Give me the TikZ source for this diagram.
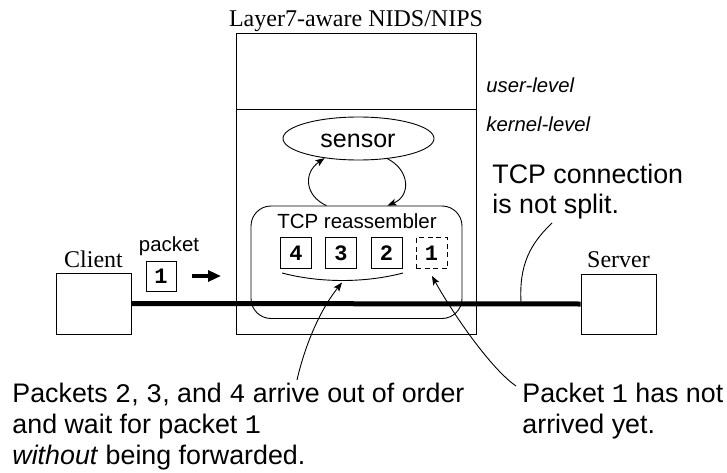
\documentclass[tikz,border=0pt]{standalone}
\usepackage{fontspec}
\setmainfont{Liberation Serif}
\setsansfont{Liberation Sans}
\setmonofont{Liberation Mono}
\usetikzlibrary{arrows.meta,shapes.geometric}
\newcommand{\mycode}[1]{\texttt{#1}}
\begin{document}
\begin{tikzpicture}[x=1pt,y=-1pt,line width=0.9pt,
  plainbox/.style={draw,rectangle,inner sep=0pt},
  pkt/.style={draw,rectangle,minimum width=31pt,minimum height=31pt,inner sep=0pt,
    font=\fontsize{22}{22}\selectfont\ttfamily\bfseries},
  serifl/.style={anchor=base,inner sep=0pt,font=\fontsize{24}{24}\selectfont\rmfamily},
  note/.style={anchor=base west,inner sep=0pt,font=\fontsize{26.8}{31}\selectfont\sffamily},
  lvl/.style={anchor=base west,inner sep=0pt,font=\fontsize{20.3}{22}\selectfont\sffamily\itshape},
  arr/.style={-{Stealth[length=9pt,width=7pt,inset=2pt]}},
]
\useasboundingbox (0,0) rectangle (727,473);

% heading
\node[serifl] (head) at (356,27) {Layer7-aware NIDS/NIPS};

% NIDS box
\node[plainbox,minimum width=239.5pt,minimum height=301pt] (nips) at (356.25,183.5) {};
\draw (nips.west |- 0,109) -- (nips.east |- 0,109);
\node[lvl] (user) at (486,93) {user-level};
\node[lvl] (kern) at (486,132) {kernel-level};

% sensor
\node[ellipse,draw,minimum width=151pt,minimum height=43pt,inner sep=0pt] (sensor) at (358.5,138.5) {};
\node[anchor=base,inner sep=0pt,font=\fontsize{25}{25}\selectfont\sffamily] (sensortxt) at (358,147.5) {sensor};

% TCP reassembler
\node[draw,rectangle,rounded corners=20pt,minimum width=211pt,minimum height=112.5pt,inner sep=0pt] (tcp) at (356.5,262.25) {};
\node[anchor=base,inner sep=0pt,font=\fontsize{20.5}{22}\selectfont\sffamily] (tcptxt) at (357,228.5) {TCP reassembler};

\node[pkt] (p4) at (296,253) {4};
\node[pkt] (p3) at (341,253) {3};
\node[pkt] (p2) at (386.5,253) {2};
\node[pkt,dashed,dash pattern=on 5pt off 3.5pt] (p1) at (431.5,253) {1};

% sensor <-> reassembler arcs
\draw[arr] ([xshift=-30pt]tcp.north) .. controls (305,196) and (303,173) .. (sensor.210);
\draw[arr] (sensor.-35) .. controls (410,170) and (411,196) .. ([xshift=31pt]tcp.north);

% brace under 4 3 2
\coordinate (brL) at (282,273);
\coordinate (brR) at (403,273);
\coordinate (brM) at (342,282.5);
\draw (brL) .. controls (320,283) and (365,283) .. (brR);

% client / server
\node[plainbox,minimum width=75pt,minimum height=61pt] (client) at (93.5,303.5) {};
\node[plainbox,minimum width=75pt,minimum height=60pt] (server) at (618.5,304) {};
\node[serifl] (clienttxt) at (93.5,267) {Client};
\node[serifl] (servertxt) at (618.5,267) {Server};
\draw[line width=5pt] (client.east) -- (server.west);

% packet in flight
\node[anchor=base,inner sep=0pt,font=\fontsize{20.4}{22}\selectfont\sffamily] (pktlbl) at (169,251.5) {packet};
\node[pkt,minimum width=30pt,minimum height=30pt] (pk) at (161,276) {1};
\coordinate (pa1) at (192,276);
\coordinate (pa2) at (221,276);
\draw[line width=3.5pt,-{Triangle[length=13pt,width=11pt]}] (pa1) -- (pa2);

% TCP connection note
\node[note] (tc1) at (492,183) {TCP connection};
\node[note] (tc2) at (492,213) {is not split.};
\coordinate (tcl) at (521,302);
\coordinate (tct) at (552,223);
\draw (tcl) .. controls (519,265) and (530,244) .. (tct);

% bottom notes
\node[note] (l1) at (12,402) {Packets \mycode{2}, \mycode{3}, and \mycode{4} arrive out of order};
\node[note] (l2) at (12,433) {and wait for packet \mycode{1}};
\node[note] (l3) at (12,464) {\textit{without} being forwarded.};
\node[note] (r1) at (522,402) {Packet \mycode{1} has not};
\node[note] (r2) at (522,433) {arrived yet.};

\coordinate (la) at (297,380);
\draw[arr] (la) .. controls (305,345) and (320,310) .. (brM);
\coordinate (ra) at (516,386);
\coordinate (p1t) at (432,276);
\draw[arr] (ra) .. controls (490,368) and (452,312) .. (p1t);
\end{tikzpicture}
\end{document}
